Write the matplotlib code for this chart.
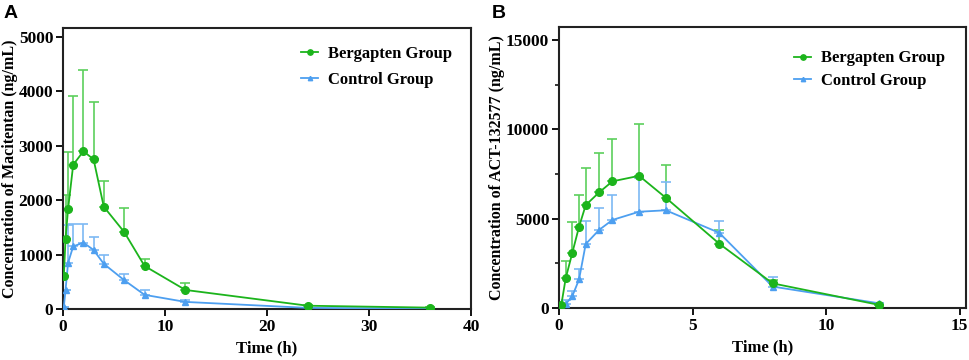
import numpy as np
import matplotlib
matplotlib.use("Agg")
import matplotlib.pyplot as plt

plt.rcParams["font.family"] = ["Liberation Serif", "DejaVu Serif"]
plt.rcParams["font.weight"] = "bold"

# panel A: macitentan
time_a = [0.083, 0.25, 0.5, 1, 2, 3, 4, 6, 8, 12, 24, 36]
berg_a = [607, 1290, 1840, 2650, 2900, 2750, 1880, 1415, 790, 350, 60, 25]
berg_a_sd = [0, 810, 1050, 1265, 1490, 1050, 480, 440, 135, 130, 15, 5]
ctrl_a = [40, 350, 850, 1150, 1220, 1085, 830, 530, 260, 130, 20, 8]
ctrl_a_sd = [0, 0, 700, 410, 350, 245, 160, 110, 80, 30, 5, 2]

# panel B: ACT-132577
time_b = [0.083, 0.25, 0.5, 0.75, 1, 1.5, 2, 3, 4, 6, 8, 12]
berg_b = [150, 1660, 3100, 4550, 5760, 6470, 7090, 7400, 6170, 3600, 1380, 170]
berg_b_sd = [0, 990, 1730, 1750, 2080, 2190, 2390, 2880, 1820, 770, 200, 0]
ctrl_b = [60, 220, 670, 1600, 3580, 4370, 4930, 5390, 5470, 4210, 1200, 260]
ctrl_b_sd = [0, 210, 290, 600, 1290, 1240, 1390, 1860, 1600, 640, 520, 40]

GREEN = "#1cb41c"
GREEN_ERR = "#5ccf5c"
BLUE = "#4d9ff0"
BLUE_ERR = "#7db9f3"


def draw_panel(ax, t, g, g_sd, c, c_sd, leg_anchor, leg_space):
    ax.errorbar(t, g, yerr=[np.zeros(len(g_sd)), g_sd], fmt="none",
                ecolor=GREEN_ERR, elinewidth=1.2, capsize=3.5, capthick=1.2, zorder=2)
    ax.errorbar(t, c, yerr=[np.zeros(len(c_sd)), c_sd], fmt="none",
                ecolor=BLUE_ERR, elinewidth=1.2, capsize=3.5, capthick=1.2, zorder=2)
    ax.plot(t, c, color=BLUE, marker="^", markersize=4.5, lw=1.3,
            label="Control Group", zorder=3)
    ax.plot(t, g, color=GREEN, marker="o", markersize=5.5, lw=1.3,
            label="Bergapten Group", zorder=4)
    for s in ax.spines.values():
        s.set_linewidth(1.5)
        s.set_color("#222222")
    ax.tick_params(direction="out", length=5, width=1.3, labelsize=12.5, pad=2)
    for lab in ax.get_xticklabels() + ax.get_yticklabels():
        lab.set_fontweight("bold")
    ax.set_xlabel("Time (h)", fontsize=12, fontweight="bold", labelpad=4)
    handles, labels = ax.get_legend_handles_labels()
    leg = ax.legend(handles[::-1], labels[::-1], frameon=False, loc="upper right",
                    bbox_to_anchor=leg_anchor, fontsize=12, handlelength=1.0,
                    handletextpad=0.6, labelspacing=leg_space, markerscale=0.7)
    for txt in leg.get_texts():
        txt.set_fontweight("bold")


fig = plt.figure(figsize=(9.69, 3.6), dpi=100)
ax_a = fig.add_axes([0.0650, 0.1417, 0.4211, 0.7805])
ax_b = fig.add_axes([0.5769, 0.1444, 0.4200, 0.7806])

draw_panel(ax_a, time_a, berg_a, berg_a_sd, ctrl_a, ctrl_a_sd, (0.99, 0.99), 0.6)
ax_a.set_xlim(0, 40)
ax_a.set_ylim(0, 5165)
ax_a.set_xticks([0, 10, 20, 30, 40])
ax_a.set_yticks([0, 1000, 2000, 3000, 4000, 5000])
ax_a.set_ylabel("Concentration of Macitentan (ng/mL)", fontsize=11.5,
                fontweight="bold", labelpad=0.5)

draw_panel(ax_b, time_b, berg_b, berg_b_sd, ctrl_b, ctrl_b_sd, (0.985, 0.97), 0.4)
ax_b.set_xlim(0, 15.24)
ax_b.set_ylim(0, 15730)
ax_b.set_xticks([0, 5, 10, 15])
ax_b.set_yticks([0, 5000, 10000, 15000])
ax_b.set_yticks([2500, 7500, 12500], minor=True)
ax_b.tick_params(which="minor", direction="out", length=3, width=1.1)
ax_b.set_ylabel("Concentration of ACT-132577 (ng/mL)", fontsize=11.5,
                fontweight="bold", labelpad=0.5)

fig.text(0.004, 0.985, "A", fontsize=14, fontweight="bold", va="top",
         family=["Liberation Sans", "DejaVu Sans"])
fig.text(0.507, 0.985, "B", fontsize=14, fontweight="bold", va="top",
         family=["Liberation Sans", "DejaVu Sans"])

fig.savefig("out.png", dpi=100)
